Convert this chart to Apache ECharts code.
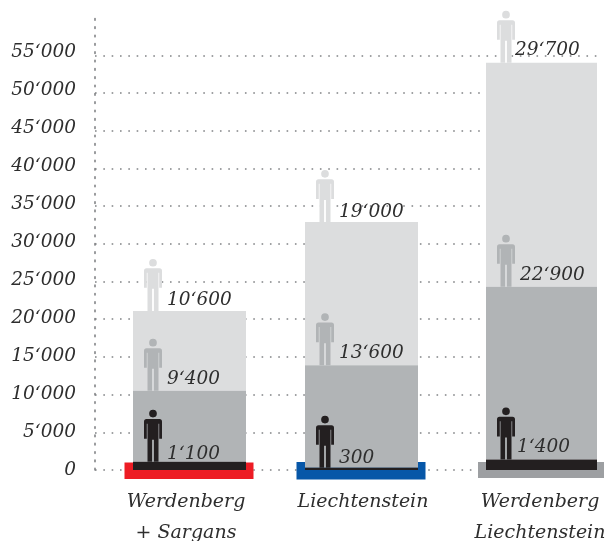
<!DOCTYPE html>
<html><head><meta charset="utf-8">
<style>html,body{margin:0;padding:0;background:#fff}#c{width:607px;height:541px}</style>
<script src="https://cdn.jsdelivr.net/npm/echarts@6/dist/echarts.min.js"></script>
</head><body><div id="c"></div>
<script>
const categories = ['Werdenberg\n+ Sargans', 'Liechtenstein', 'Werdenberg\nLiechtenstein'];
const seriesDark = [1100, 300, 1400];
const seriesMid = [9400, 13600, 22900];
const seriesLight = [10600, 19000, 29700];

const FONT = 'italic 18.5px "DejaVu Serif"';
const TEXT = '#2e2e2e';
const barNudge = [3.5, -1.5, 1.5];
const barW = [113, 113, 111];
const plateColors = ['#ed1c24', '#0757a8', '#9d9fa2'];
const plateBox = [[-8.5, 129], [-8.5, 129], [-8, 126]]; // left offset, width
const plateRange = [[-7.5, 9], [-8, 9.5], [-8, 8]];     // above / below zero in px
const darkLabelShift = [[0, 3.5], [0, 1], [-3, -1.5]];
const midLabelShift = [[0, -1], [0, -1], [0, -0.5]];
const lightLabelShift = [[0, 0.5], [0, 1.5], [-5, -1.5]];
const PERSON = 'M9,0.1a3.85,3.85 0 1,1 -0.01,0z M2.5,9.5 L15.5,9.5 Q18,9.5 18,12 L18,29 L15.2,29 L15.2,14 L14.5,14 L14.5,52 L9.9,52 L9.9,30 L8.1,30 L8.1,52 L3.5,52 L3.5,14 L2.8,14 L2.8,29 L0,29 L0,12 Q0,9.5 2.5,9.5 Z';
const fmt = n => String(n).replace(/\B(?=(\d{3})+$)/g, '\u2018');

function stackData(values, below) {
  return values.map((v, i) => [i, v, below[i]]);
}
const base0 = [0, 0, 0];
const base1 = seriesDark.slice();
const base2 = seriesDark.map((v, i) => v + seriesMid[i]);

function segment(fill, personFill, labelShift) {
  return function (params, api) {
    const i = api.value(0), v = api.value(1), b = api.value(2);
    const cx = api.coord([i, 0])[0] + barNudge[i];
    const top = api.coord([i, b + v])[1];
    const bot = api.coord([i, b])[1];
    const left = cx - barW[i] / 2;
    return {
      type: 'group',
      children: [
        { type: 'rect', shape: { x: left, y: top, width: barW[i], height: bot - top }, style: { fill: fill } },
        { type: 'path', shape: { pathData: PERSON, x: left + 11, y: top - 52, width: 18, height: 52, layout: 'cover' }, style: { fill: personFill } },
        { type: 'text', style: { text: fmt(v), x: left + 34 + labelShift[i][0], y: top - 11 + labelShift[i][1], font: FONT, fill: TEXT, verticalAlign: 'middle', align: 'left' } }
      ]
    };
  };
}
function plate(params, api) {
  const i = api.value(0);
  const cx = api.coord([i, 0])[0] + barNudge[i];
  const zero = api.coord([i, 0])[1];
  const left = cx - barW[i] / 2 + plateBox[i][0];
  return {
    type: 'rect',
    shape: { x: left, y: zero + plateRange[i][0], width: plateBox[i][1], height: plateRange[i][1] - plateRange[i][0] },
    style: { fill: plateColors[i] }
  };
}
const custom = (name, z, renderItem, data) => ({
  type: 'custom', name, z, xAxisIndex: 1, yAxisIndex: 1, renderItem, data,
  encode: { x: 0, y: 1 }, clip: false, silent: true
});

const chart = echarts.init(document.getElementById('c'), null, { renderer: 'canvas' });
chart.setOption({
  animation: false,
  backgroundColor: '#fff',
  grid: [
    { left: 95, top: 17.6, width: 502, height: 452.4, outerBoundsMode: 'none' },
    { left: 97.5, top: 17.6, width: 531, height: 452.4, outerBoundsMode: 'none' },
    { left: 95, top: 14, width: 502, height: 456, outerBoundsMode: 'none' }
  ],
  xAxis: [
    { type: 'category', gridIndex: 0, show: false, data: categories },
    {
      type: 'category', gridIndex: 1, data: categories,
      axisLine: { show: false }, axisTick: { show: false },
      axisLabel: { interval: 0, margin: 17, color: TEXT, fontFamily: 'DejaVu Serif', fontStyle: 'italic', fontSize: 19, lineHeight: 31, hideOverlap: false }
    },
    { type: 'category', gridIndex: 2, show: false, data: categories }
  ],
  yAxis: [
    {
      type: 'value', gridIndex: 0, min: 0, max: 60000, interval: 5000,
      axisLine: { show: true, lineStyle: { color: '#808285', width: 1.6, type: [1.6, 6.73] } },
      axisTick: { show: false },
      axisLabel: { show: false },
      splitLine: { show: true, showMaxLine: false, lineStyle: { color: '#808285', width: 1.6, type: [1.6, 6.73] } }
    },
    { type: 'value', gridIndex: 1, min: 0, max: 60000, interval: 5000, show: false, splitLine: { show: false } },
    {
      type: 'value', gridIndex: 2, min: 0, max: 60000, interval: 5000,
      axisLine: { show: false }, axisTick: { show: false }, splitLine: { show: false },
      axisLabel: { margin: 19, color: TEXT, fontFamily: 'DejaVu Serif', fontStyle: 'italic', fontSize: 18.5,
        formatter: v => v >= 60000 ? '' : fmt(v) }
    }
  ],
  series: [
    custom('plates', 3, plate, categories.map((c, i) => [i, 0])),
    custom('light', 4, segment('#dcddde', '#dcddde', lightLabelShift), stackData(seriesLight, base2)),
    custom('mid', 5, segment('#b1b4b6', '#b1b4b6', midLabelShift), stackData(seriesMid, base1)),
    custom('dark', 6, segment('#231f20', '#231f20', darkLabelShift), stackData(seriesDark, base0))
  ]
});
</script></body></html>
